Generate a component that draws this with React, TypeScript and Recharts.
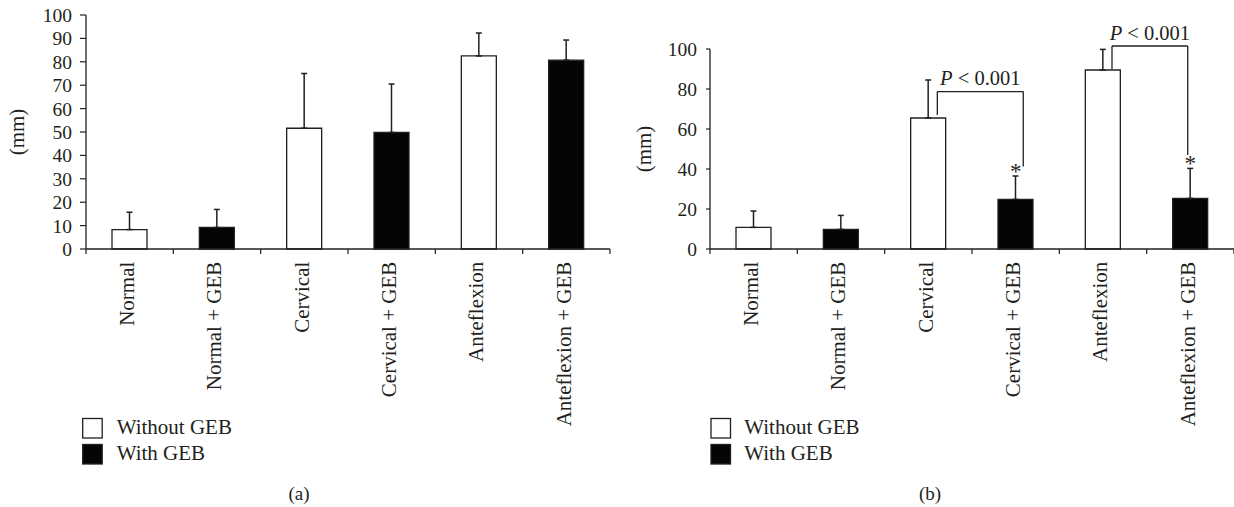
import React from 'react';
import { BarChart, Bar, XAxis, YAxis, Cell, ErrorBar, ReferenceLine, ReferenceDot } from 'recharts';

// ---------- data ----------
const categories = ['Normal', 'Normal + GEB', 'Cervical', 'Cervical + GEB', 'Anteflexion', 'Anteflexion + GEB'];
const meansA = [8.3, 9.2, 51.6, 49.8, 82.5, 80.7];
const sdA = [7.4, 7.7, 23.4, 20.7, 9.8, 8.6];
const meansB = [10.8, 9.8, 65.5, 24.8, 89.5, 25.3];
const sdB = [8.2, 7.0, 19.0, 11.7, 10.3, 15.0];
const ticksA = [0, 10, 20, 30, 40, 50, 60, 70, 80, 90, 100];
const ticksB = [0, 20, 40, 60, 80, 100];
const legendLabels = ['Without GEB', 'With GEB'];
const captions = ['(a)', '(b)'];
const axisTitle = '(mm)';
const bracketsB = [
  { from: 'Cervical', to: 'Cervical + GEB', top: 78.7, fromY: 67, toY: 41.2 },
  { from: 'Anteflexion', to: 'Anteflexion + GEB', top: 101.5, fromY: 89.9, toY: 47 },
];
const bracketText = 'P < 0.001';
const starredB = ['Cervical + GEB', 'Anteflexion + GEB'];

// ---------- style ----------
const FONT = "'Liberation Serif', 'Times New Roman', serif";
const INK = '#231f20';
const bracketOffsets = [
  { left: 9, right: 7.6 },
  { left: 9, right: -2.6 },
];

const buildData = (means: number[], sds: number[]) =>
  categories.map((name, i) => ({ name, value: means[i], err: [0, sds[i]] }));

const dataA = buildData(meansA, sdA);
const dataB = buildData(meansB, sdB);

function CategoryTick(props: any) {
  const { x, y, payload, index } = props;
  const half = payload && typeof payload.offset === 'number' && payload.offset > 0 ? payload.offset : 43.67;
  return (
    <g>
      <line x1={x - half} x2={x - half} y1={y} y2={y + 5} stroke={INK} strokeWidth={1.2} />
      {index === categories.length - 1 && (
        <line x1={x + half} x2={x + half} y1={y} y2={y + 5} stroke={INK} strokeWidth={1.2} />
      )}
      <text
        transform={`translate(${x + 4.4},${y + 12.7}) rotate(-90)`}
        textAnchor="end"
        fontSize={21}
        fontFamily={FONT}
        fill={INK}
      >
        {payload.value}
      </text>
    </g>
  );
}

function makeYLabel(anchorX: number) {
  return (p: any) => {
    const vb = p.viewBox || {};
    const cy = (vb.y || 0) + (vb.height || 0) / 2;
    return (
      <text
        transform={`translate(${anchorX},${cy}) rotate(-90)`}
        textAnchor="middle"
        fontSize={21}
        fontFamily={FONT}
        fill={INK}
      >
        {axisTitle}
      </text>
    );
  };
}

interface PanelProps {
  data: any[];
  ticks: number[];
  left: number;
  width: number;
  marginTop: number;
  marginRight: number;
  yWidth: number;
  yTickSize: number;
  yTickMargin: number;
  labelX: number;
  annotate?: boolean;
}

function Panel(p: PanelProps) {
  return (
    <div style={{ position: 'absolute', left: p.left, top: 0 }}>
      <BarChart
        width={p.width}
        height={507}
        data={p.data}
        margin={{ top: p.marginTop, right: p.marginRight, left: 0, bottom: 0 }}
      >
        <XAxis
          dataKey="name"
          interval={0}
          tickLine={false}
          tickSize={0}
          tickMargin={0}
          height={258}
          axisLine={{ stroke: INK, strokeWidth: 1.3 }}
          tick={<CategoryTick />}
        />
        <YAxis
          domain={[0, 100]}
          ticks={p.ticks}
          interval={0}
          width={p.yWidth}
          tickSize={p.yTickSize}
          tickMargin={p.yTickMargin}
          axisLine={{ stroke: INK, strokeWidth: 1.3 }}
          tickLine={{ stroke: INK, strokeWidth: 1.2 }}
          tick={{ fontSize: 19.5, fontFamily: FONT, fill: INK }}
          label={makeYLabel(p.labelX)}
        />
        <Bar dataKey="value" barSize={35} isAnimationActive={false}>
          {p.data.map((d, i) => (
            <Cell key={d.name} fill={i % 2 === 0 ? '#ffffff' : '#050505'} stroke={INK} strokeWidth={1.3} />
          ))}
          <ErrorBar dataKey="err" width={3} stroke={INK} strokeWidth={1.5} direction="y" isAnimationActive={false} />
        </Bar>
        {p.annotate &&
          bracketsB.map((b, i) => {
            const off = bracketOffsets[i];
            return (
              <React.Fragment key={b.from}>
                <ReferenceLine
                  segment={[{ x: b.from, y: b.fromY }, { x: b.from, y: b.top }]}
                  ifOverflow="visible"
                  shape={(s: any) => (
                    <line x1={s.x1 + off.left} x2={s.x2 + off.left} y1={s.y1} y2={s.y2} stroke={INK} strokeWidth={1.3} />
                  )}
                />
                <ReferenceLine
                  segment={[{ x: b.from, y: b.top }, { x: b.to, y: b.top }]}
                  ifOverflow="visible"
                  shape={(s: any) => {
                    const x1 = s.x1 + off.left;
                    const x2 = s.x2 + off.right;
                    return (
                      <g>
                        <line x1={x1} x2={x2} y1={s.y1} y2={s.y2} stroke={INK} strokeWidth={1.3} />
                        <text
                          x={(x1 + x2) / 2}
                          y={s.y1 - 6.5}
                          textAnchor="middle"
                          fontSize={20.5}
                          fontFamily={FONT}
                          fill={INK}
                        >
                          <tspan fontStyle="italic">{bracketText.slice(0, 1)}</tspan>
                          {bracketText.slice(1)}
                        </text>
                      </g>
                    );
                  }}
                />
                <ReferenceLine
                  segment={[{ x: b.to, y: b.top }, { x: b.to, y: b.toY }]}
                  ifOverflow="visible"
                  shape={(s: any) => (
                    <line x1={s.x1 + off.right} x2={s.x2 + off.right} y1={s.y1} y2={s.y2} stroke={INK} strokeWidth={1.3} />
                  )}
                />
              </React.Fragment>
            );
          })}
        {p.annotate &&
          starredB.map((c) => {
            const i = categories.indexOf(c);
            return (
              <ReferenceDot
                key={c}
                x={c}
                y={meansB[i] + sdB[i]}
                r={0}
                ifOverflow="visible"
                shape={(s: any) => (
                  <text x={s.cx} y={s.cy + 3} textAnchor="middle" fontSize={23} fontFamily={FONT} fill={INK}>
                    *
                  </text>
                )}
              />
            );
          })}
      </BarChart>
    </div>
  );
}

function LegendAndCaption({ sx, tx, cx, caption }: { sx: number; tx: number; cx: number; caption: string }) {
  return (
    <g fontFamily={FONT} fill={INK}>
      <rect x={sx} y={418.5} width={19.5} height={19.5} fill="#ffffff" stroke={INK} strokeWidth={1.3} />
      <rect x={sx} y={444.5} width={19.5} height={19.5} fill="#050505" stroke={INK} strokeWidth={1.3} />
      <text x={tx} y={433.5} fontSize={21}>{legendLabels[0]}</text>
      <text x={tx} y={460} fontSize={21}>{legendLabels[1]}</text>
      <text x={cx} y={500} fontSize={19} textAnchor="middle">{caption}</text>
    </g>
  );
}

export default function App() {
  return (
    <div style={{ position: 'absolute', left: 0, top: 0, width: 1234, height: 507, background: '#ffffff', overflow: 'hidden' }}>
      <Panel
        data={dataA}
        ticks={ticksA}
        left={0}
        width={620}
        marginTop={15}
        marginRight={10}
        yWidth={86}
        yTickSize={6}
        yTickMargin={8}
        labelX={24}
      />
      <Panel
        data={dataB}
        ticks={ticksB}
        left={620}
        width={614}
        marginTop={49}
        marginRight={0}
        yWidth={90}
        yTickSize={4}
        yTickMargin={9}
        labelX={31}
        annotate
      />
      <svg width={1234} height={507} style={{ position: 'absolute', left: 0, top: 0, pointerEvents: 'none' }}>
        <LegendAndCaption sx={82.7} tx={116.7} cx={299} caption={captions[0]} />
        <LegendAndCaption sx={711} tx={744.3} cx={930} caption={captions[1]} />
      </svg>
    </div>
  );
}
